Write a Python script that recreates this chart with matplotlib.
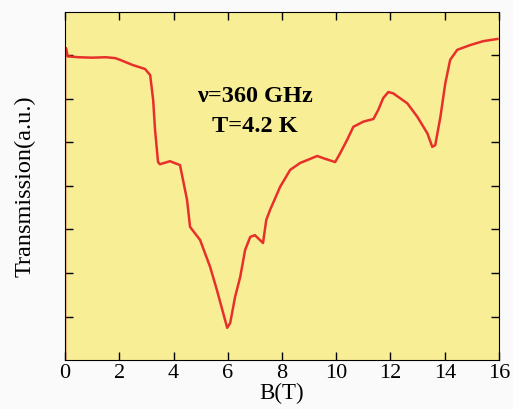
import matplotlib
matplotlib.use("Agg")
import matplotlib.pyplot as plt

# magnetic field (T) and transmission (a.u.)
field = [0.0, 0.0, 0.04, 0.1, 0.5, 1.0, 1.5, 1.85, 2.03, 2.5, 2.95, 3.14, 3.25, 3.32, 3.43,
         3.5, 3.87, 4.24, 4.35, 4.5, 4.61, 4.98, 5.35, 5.6, 5.87, 5.98, 6.09, 6.27,
         6.46, 6.64, 6.83, 7.0, 7.3, 7.42, 7.56, 7.93, 8.3, 8.67, 9.3, 9.52, 9.96,
         10.15, 10.4, 10.63, 11.0, 11.37, 11.55, 11.73, 11.92, 12.1, 12.62, 12.99,
         13.36, 13.54, 13.65, 13.84, 14.02, 14.2, 14.46, 14.94, 15.42, 15.94]
transmission = [0.0, 7.0, 7.17, 6.98, 6.96, 6.95, 6.96, 6.94, 6.9, 6.78, 6.69, 6.55, 5.98,
                5.29, 4.55, 4.5, 4.57, 4.48, 4.14, 3.68, 3.06, 2.76, 2.14, 1.61, 0.99,
                0.74, 0.85, 1.45, 1.91, 2.53, 2.83, 2.87, 2.69, 3.22, 3.45, 3.98, 4.37,
                4.53, 4.69, 4.64, 4.55, 4.76, 5.06, 5.36, 5.48, 5.54, 5.75, 6.02, 6.16,
                6.13, 5.9, 5.59, 5.21, 4.9, 4.94, 5.59, 6.36, 6.9, 7.13, 7.24, 7.33, 7.38]

xticks = [0, 2, 4, 6, 8, 10, 12, 14, 16]
yticks = [1, 2, 3, 4, 5, 6, 7]

plt.rcParams['font.family'] = ['Liberation Serif', 'DejaVu Serif']

fig = plt.figure(figsize=(5.13, 4.09), dpi=100, facecolor='#fafafa')
ax = fig.add_axes([65 / 513, 1 - 360 / 409, 434 / 513, 348 / 409])
ax.set_facecolor('#f8ee96')

ax.plot(field, transmission, color='#e8302a', linewidth=1.8)

ax.set_xlim(0, 16)
ax.set_ylim(0, 8)
ax.set_xticks(xticks)
ax.set_yticks(yticks)
ax.set_yticklabels([])
ax.tick_params(direction='in', top=True, right=True, length=6, width=1,
               labelsize=16, pad=3)

ax.set_xlabel('B(T)', fontsize=16.5, labelpad=0)
ax.set_ylabel('Transmission(a.u.)', fontsize=17.5, labelpad=18)

ax.text(7.0, 6.05, 'ν=360 GHz', fontsize=17.5, fontweight='bold', ha='center', va='center')
ax.text(7.0, 5.36, 'T=4.2 K', fontsize=17.5, fontweight='bold', ha='center', va='center')

fig.savefig('out.png', dpi=100, facecolor=fig.get_facecolor())
